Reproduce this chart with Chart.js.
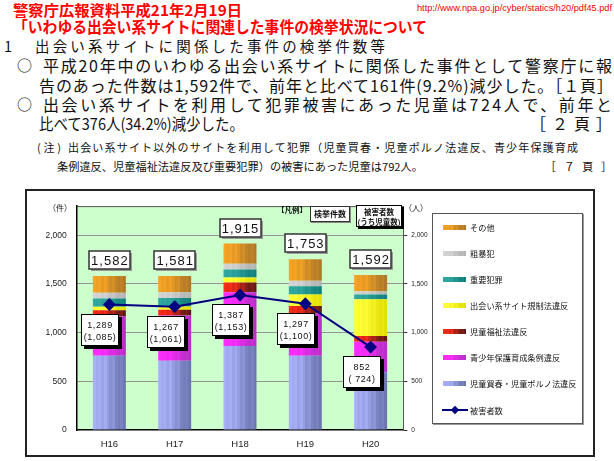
<!DOCTYPE html>
<html><head><meta charset="utf-8">
<script src="https://cdn.jsdelivr.net/npm/chart.js@4/dist/chart.umd.min.js"></script>
<style>
html,body{margin:0;padding:0;background:#fff;width:614px;height:461px;overflow:hidden;}
body{position:relative;font-family:"Noto Sans CJK JP","Noto Sans",sans-serif;color:#111;}
.t{position:absolute;white-space:nowrap;line-height:1;transform-origin:0 0;}
.red{color:#f00;font-weight:700;}
.frame{position:absolute;left:25px;top:189px;width:570px;height:268px;border:2px solid #222;box-sizing:border-box;background:#fff;}
.cwrap{position:absolute;left:27px;top:191px;width:566px;height:264px;}
.ov{position:absolute;white-space:nowrap;line-height:1;}
.lgbox{position:absolute;left:432px;top:213px;width:151px;height:211px;border:1px solid #555;box-shadow:1px 1px 0 #999;background:#fff;box-sizing:border-box;}
.sw{position:absolute;width:23px;height:5px;}
.lt{position:absolute;font-size:8.2px;line-height:1;white-space:nowrap;color:#111;}
</style></head><body>

<div class="t red" style="left:13px;top:2px;font-size:15px" data-w="229" data-m="s">警察庁広報資料平成21年2月19日</div>
<div class="t red" style="left:13px;top:17.5px;font-size:16px" data-w="414" data-m="s">「いわゆる出会い系サイトに関連した事件の検挙状況について</div>
<div class="t" style="left:417px;top:3px;font-family:'Liberation Sans',Arial,sans-serif;font-size:9.5px;color:#e00" data-w="195" data-m="s">http://www.npa.go.jp/cyber/statics/h20/pdf45.pdf</div>

<div class="t" style="left:4px;top:39px;font-size:14.5px">1</div>
<div class="t" style="left:35px;top:39px;font-size:14.5px" data-w="350">出会い系サイトに関係した事件の検挙件数等</div>

<div class="t" style="left:17px;top:57px;font-size:15px">○</div>
<div class="t" style="left:43px;top:57px;font-size:16px" data-w="569">平成20年中のいわゆる出会い系サイトに関係した事件として警察庁に報</div>
<div class="t" style="left:39px;top:77px;font-size:16px" data-w="574">告のあった件数は1,592件で、前年と比べて161件(9.2%)減少した。［１頁］</div>
<div class="t" style="left:17px;top:96px;font-size:15px">○</div>
<div class="t" style="left:43px;top:96px;font-size:16px" data-w="569">出会い系サイトを利用して犯罪被害にあった児童は724人で、前年と</div>
<div class="t" style="left:39px;top:115px;font-size:16px" data-w="205" data-m="s">比べて376人(34.2%)減少した。</div>
<div class="t" style="left:530px;top:115px;font-size:16px" data-w="82">［２頁］</div>
<div class="t" style="left:37px;top:141.5px;font-size:11px" data-w="24">(注)</div>
<div class="t" style="left:68px;top:141.5px;font-size:11px" data-w="510">出会い系サイト以外のサイトを利用して犯罪（児童買春・児童ポルノ法違反、青少年保護育成</div>
<div class="t" style="left:57px;top:161px;font-size:11px" data-w="366" data-m="s">条例違反、児童福祉法違反及び重要犯罪）の被害にあった児童は792人。</div>
<div class="t" style="left:545px;top:161px;font-size:11px" data-w="67">［７頁］</div>

<div class="frame"></div>
<div class="cwrap"><canvas id="c"></canvas></div>

<div class="ov" style="left:48px;top:204px;font-size:8px">（件）</div>
<div class="ov" style="left:404px;top:204px;font-size:8px">（人）</div>
<div class="ov" style="left:277px;top:205.5px;font-size:7.5px;font-weight:700">【凡例】</div>
<div class="ov" style="left:310px;top:205.5px;width:40px;height:16px;border:1px solid #333;box-sizing:border-box;box-shadow:1px 1px 0 #888;background:#fff;font-size:8px;font-weight:700;text-align:center;line-height:14px">検挙件数</div>
<div class="ov" style="left:356px;top:205px;width:46px;height:22px;border:1px solid #000;box-sizing:border-box;box-shadow:2px 2px 0 #000;background:#fff;font-size:7.5px;font-weight:700;text-align:center;line-height:9.5px;padding-top:1px">被害者数<br>(うち児童数)</div>

<div class="lgbox"></div>
<div id="legend"></div>

<script>
// ---- data ----
const categories = ['H16', 'H17', 'H18', 'H19', 'H20'];
const totals = [1582, 1581, 1915, 1753, 1592];
const kaishunPorno = [762, 712, 862, 762, 594];   // 児童買春・児童ポルノ法違反
const seishonen = [403, 463, 553, 436, 312];      // 青少年保護育成条例違反
const fukushi = [66, 60, 101, 77, 60];            // 児童福祉法違反
const deaikeiKisei = [34, 33, 50, 117, 376];      // 出会い系サイト規制法違反
const juyoHanzai = [87, 88, 84, 84, 50];          // 重要犯罪
const soboHan = [57, 60, 57, 57, 34];             // 粗暴犯
const sonota = [173, 165, 208, 220, 166];         // その他
const victims = [1289, 1267, 1387, 1297, 852];    // 被害者数
const childVictims = [1085, 1061, 1153, 1100, 724]; // うち児童数
const yTicks = [0, 500, 1000, 1500, 2000];
const seriesNames = ['児童買春・児童ポルノ法違反', '青少年保護育成条例違反', '児童福祉法違反', '出会い系サイト規制法違反', '重要犯罪', '粗暴犯', 'その他'];
const lineName = '被害者数';

// ---- styles ----
const barStyles = [
  {light: '#A8B0F8', dark: '#6670A8'},
  {light: '#FF2CFF', dark: '#B030C0'},
  {light: '#FF2A18', dark: '#4A1818'},
  {light: '#FFFF38', dark: '#E0DC00'},
  {light: '#30A8A0', dark: '#107C78'},
  {light: '#D4D4D4', dark: '#B0B0B0'},
  {light: '#F6A424', dark: '#A87428'}
];
const stripeMix = [0, 0.12, 0.04, 0.2, 0.08, 0.3, 0.5, 0.42, 0.68, 0.8, 0.7, 0.9];
const BAR_PCT = 0.505;

function hex2rgb(h){ h = h.replace('#',''); return [0,2,4].map(i => parseInt(h.substr(i,2),16)); }
function mix(a, b, f){ const A = hex2rgb(a), B = hex2rgb(b); return 'rgb(' + A.map((v,i) => Math.round(v + (B[i]-v)*f)).join(',') + ')'; }
function stripeColors(st){ return stripeMix.map(f => mix(st.light, st.dark, f)); }
function cssStripes(st){
  const cols = stripeColors(st), n = cols.length, parts = [];
  cols.forEach((c,k) => { parts.push(c + ' ' + (k/n*100) + '%', c + ' ' + ((k+1)/n*100) + '%'); });
  return 'linear-gradient(to right,' + parts.join(',') + ')';
}
function stripeFill(st){
  const cols = stripeColors(st);
  return function(ctx){
    const chart = ctx.chart, xs = chart.scales && chart.scales.x;
    if (!xs || ctx.dataIndex === undefined || !chart.chartArea) return st.light;
    const cx = xs.getPixelForValue(ctx.dataIndex);
    const w = xs.width / categories.length * BAR_PCT;
    const g = chart.ctx.createLinearGradient(cx - w/2, 0, cx + w/2, 0);
    const n = cols.length;
    cols.forEach((c,k) => { g.addColorStop(k/n, c); g.addColorStop((k+1)/n, c); });
    return g;
  };
}

const barSeries = [kaishunPorno, seishonen, fukushi, deaikeiKisei, juyoHanzai, soboHan, sonota];
const datasets = barSeries.map((arr, i) => ({
  type: 'bar', label: seriesNames[i], data: arr, yAxisID: 'y', stack: 'cases', order: 1,
  backgroundColor: stripeFill(barStyles[i]), borderWidth: 0,
  barPercentage: BAR_PCT, categoryPercentage: 1
}));
datasets.push({
  type: 'line', label: lineName, data: victims, yAxisID: 'y2', order: 0,
  borderColor: '#000080', borderWidth: 2, backgroundColor: '#000080',
  pointStyle: 'rectRot', pointRadius: 5, pointBackgroundColor: '#000080', pointBorderColor: '#000080',
  tension: 0
});

const fmt = v => v.toLocaleString('en-US');

const decor = {
  id: 'decor',
  beforeDraw(chart){
    const {ctx, chartArea: a} = chart;
    ctx.save(); ctx.fillStyle = '#CCFFCC'; ctx.fillRect(a.left, a.top, a.right - a.left, a.bottom - a.top);
    ctx.strokeStyle = '#555'; ctx.lineWidth = 1;
    ctx.beginPath(); ctx.moveTo(a.left, a.top + 0.5); ctx.lineTo(a.right, a.top + 0.5); ctx.stroke();
    ctx.restore();
  },
  afterDatasetsDraw(chart){
    const {ctx} = chart, xs = chart.scales.x, ys = chart.scales.y, y2 = chart.scales.y2;
    ctx.save();
    // totals
    ctx.font = '13px "Liberation Sans", Arial, sans-serif';
    try { ctx.letterSpacing = '1px'; } catch(e) {}
    ctx.textAlign = 'center'; ctx.textBaseline = 'middle';
    totals.forEach((t, i) => {
      const cx = xs.getPixelForValue(i), ty = ys.getPixelForValue(t);
      const w = 41, h = 18, x0 = Math.round(cx - w/2), y0 = Math.round(ty - 7 - h);
      ctx.fillStyle = '#9a9a9a'; ctx.fillRect(x0 + 2, y0 + 2, w, h);
      ctx.fillStyle = '#fff'; ctx.fillRect(x0, y0, w, h);
      ctx.strokeStyle = '#333'; ctx.lineWidth = 1.5; ctx.strokeRect(x0, y0, w, h);
      ctx.fillStyle = '#111'; ctx.fillText(fmt(t), cx + 0.5, y0 + h/2 + 1);
    });
    // victims
    ctx.font = '9px "Liberation Sans", Arial, sans-serif';
    try { ctx.letterSpacing = '0.6px'; } catch(e) {}
    victims.forEach((v, i) => {
      const px = xs.getPixelForValue(i), py = y2.getPixelForValue(v);
      const w = 38, h = 32, x0 = Math.round(px - 9 - w/2), y0 = Math.round(py + 9);
      ctx.fillStyle = '#000'; ctx.fillRect(x0 + 3, y0 + 3, w, h);
      ctx.fillStyle = '#fff'; ctx.fillRect(x0, y0, w, h);
      ctx.strokeStyle = '#000'; ctx.lineWidth = 1; ctx.strokeRect(x0 + 0.5, y0 + 0.5, w - 1, h - 1);
      const c = fmt(childVictims[i]);
      ctx.fillStyle = '#111';
      ctx.fillText(fmt(v), x0 + w/2, y0 + 11.5);
      ctx.fillText('(' + (c.length < 5 ? ' ' + c : c) + ')', x0 + w/2, y0 + 24);
    });
    ctx.restore();
  }
};

const tickSetter = s => { s.ticks = yTicks.map(v => ({value: v})); };

new Chart(document.getElementById('c'), {
  data: {labels: categories, datasets},
  options: {
    responsive: true, maintainAspectRatio: false, animation: false,
    layout: {padding: {top: 10.7, left: 0, right: 0, bottom: 0}},
    plugins: {legend: {display: false}, tooltip: {enabled: false}},
    scales: {
      x: {
        stacked: true, offset: true,
        grid: {display: false, drawTicks: false},
        border: {display: true, color: '#000', width: 1.5},
        ticks: {padding: 9, color: '#222', font: {family: '"Liberation Sans", Arial, sans-serif', size: 9.5}},
        afterFit(s){ s.height = 25; }
      },
      y: {
        stacked: true, position: 'left', min: 0, max: 2300,
        afterBuildTicks: tickSetter,
        afterFit(s){ s.width = 49.7; },
        ticks: {padding: 10, color: '#222', font: {family: '"Liberation Sans", Arial, sans-serif', size: 8.5}, callback: v => fmt(v)},
        grid: {drawTicks: false, lineWidth: 1, color: c => (c.tick && c.tick.value === 0) ? 'rgba(0,0,0,0)' : '#949494'},
        border: {color: '#000', width: 1.5}
      },
      y2: {
        stacked: false, position: 'right', min: 0, max: 2300,
        afterBuildTicks: tickSetter,
        afterFit(s){ s.width = 189.7; },
        ticks: {padding: 4, color: '#222', font: {family: '"Liberation Sans", Arial, sans-serif', size: 6.5}, callback: v => fmt(v)},
        grid: {drawOnChartArea: false, tickLength: 4, color: '#333'},
        border: {color: '#555', width: 1}
      }
    }
  },
  plugins: [decor]
});

// ---- HTML legend built from the series ----
(function(){
  const L = document.getElementById('legend');
  const order = [6, 5, 4, 3, 2, 1, 0];
  const rowY = k => 227.3 + 26.1 * k;
  order.forEach((si, k) => {
    const sw = document.createElement('div'); sw.className = 'sw';
    sw.style.left = '443px'; sw.style.top = (rowY(k) - 2.5) + 'px';
    sw.style.background = cssStripes(barStyles[si]);
    L.appendChild(sw);
    const t = document.createElement('div'); t.className = 'lt';
    t.style.left = '470px'; t.style.top = (rowY(k) - 4.5) + 'px'; t.textContent = seriesNames[si];
    L.appendChild(t);
  });
  const y = rowY(7);
  const ln = document.createElement('div');
  ln.style.cssText = 'position:absolute;left:442px;width:26px;height:2px;background:#000080;top:' + (y - 1) + 'px';
  L.appendChild(ln);
  const dm = document.createElement('div');
  dm.style.cssText = 'position:absolute;left:452px;width:6px;height:6px;background:#000080;transform:rotate(45deg);top:' + (y - 3) + 'px';
  L.appendChild(dm);
  const t = document.createElement('div'); t.className = 'lt';
  t.style.left = '470px'; t.style.top = (y - 4.5) + 'px'; t.textContent = lineName;
  L.appendChild(t);
})();

// ---- fit text widths ----
function fitAll(){
  document.querySelectorAll('[data-w]').forEach(el => {
    el.style.transform = ''; el.style.letterSpacing = '';
    const target = +el.dataset.w, nat = el.getBoundingClientRect().width;
    if (!nat) return;
    if (el.dataset.m === 's') el.style.transform = 'scaleX(' + (target / nat) + ')';
    else {
      const n = [...el.textContent].length;
      el.style.letterSpacing = ((target - nat) / Math.max(1, n - 1)) + 'px';
    }
  });
}
fitAll();
if (document.fonts && document.fonts.ready) document.fonts.ready.then(fitAll);
</script>
</body></html>
